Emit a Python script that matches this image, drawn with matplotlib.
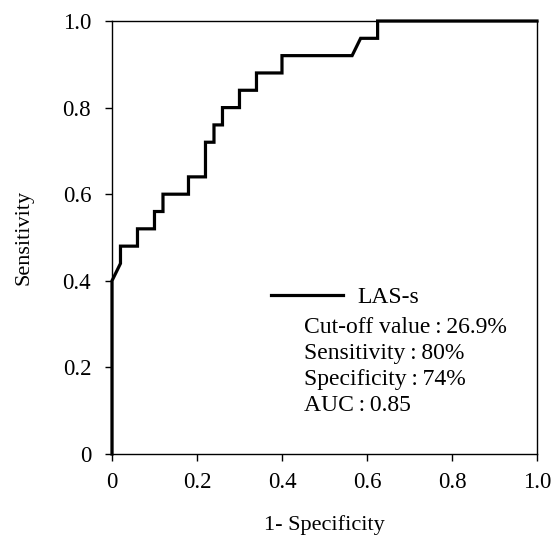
import numpy as np
import matplotlib
matplotlib.use('Agg')
import matplotlib.pyplot as plt

# ROC curve points (1 - specificity, sensitivity)
fpr = [0.0, 0.0, 0.02, 0.02, 0.06, 0.06, 0.10, 0.10, 0.12, 0.12, 0.18, 0.18,
       0.22, 0.22, 0.24, 0.24, 0.26, 0.26, 0.30, 0.30, 0.34, 0.34, 0.40, 0.40,
       0.565, 0.585, 0.625, 0.625, 1.0]
tpr = [0.0, 0.40, 0.44, 0.48, 0.48, 0.52, 0.52, 0.56, 0.56, 0.60, 0.60, 0.64,
       0.64, 0.72, 0.72, 0.76, 0.76, 0.80, 0.80, 0.84, 0.84, 0.88, 0.88, 0.92,
       0.92, 0.96, 0.96, 1.0, 1.0]

series_name = 'LAS-s'
stats_lines = ['Cut-off value\u2009:\u200926.9%',
               'Sensitivity\u2009:\u200980%',
               'Specificity\u2009:\u200974%',
               'AUC\u2009:\u20090.85']

xticks = [0, 0.2, 0.4, 0.6, 0.8, 1.0]
xticklabels = ['0', '0.2', '0.4', '0.6', '0.8', '1.0']
yticks = [0, 0.2, 0.4, 0.6, 0.8, 1.0]
yticklabels = ['0', '0.2', '0.4', '0.6', '0.8', '1.0']

plt.rcParams['font.family'] = ['Liberation Serif', 'DejaVu Serif']

fig = plt.figure(figsize=(5.56, 5.37), dpi=100)
ax = fig.add_axes([0.2014, 0.1546, 0.9658 - 0.2014, 0.9609 - 0.1546])

ax.plot(fpr, tpr, color='black', lw=2.3, solid_joinstyle='miter',
        label=series_name, clip_on=False, zorder=3)

ax.set_xlim(0, 1)
ax.set_ylim(0, 1)
ax.set_xticks(xticks)
ax.set_xticklabels(xticklabels)
ax.set_yticks(yticks)
ax.set_yticklabels(yticklabels)

for sp in ax.spines.values():
    sp.set_linewidth(1.0)
ax.tick_params(direction='out', length=5, width=1.0, labelsize=16.5)
ax.tick_params(axis='y', pad=10)
ax.tick_params(axis='x', pad=8)

ax.set_xlabel('1- Specificity', fontsize=16, labelpad=16)
ax.set_ylabel('Sensitivity', fontsize=16, labelpad=21)

leg = ax.legend(loc='upper left', bbox_to_anchor=(0.352, 0.408),
                frameon=False, fontsize=17, handlelength=3.05,
                handletextpad=0.6, borderaxespad=0)

ax.text(0.452, 0.316, '\n'.join(stats_lines), transform=ax.transAxes,
        fontsize=17, va='top', ha='left', linespacing=1.315)

fig.savefig('out.png', dpi=100)
